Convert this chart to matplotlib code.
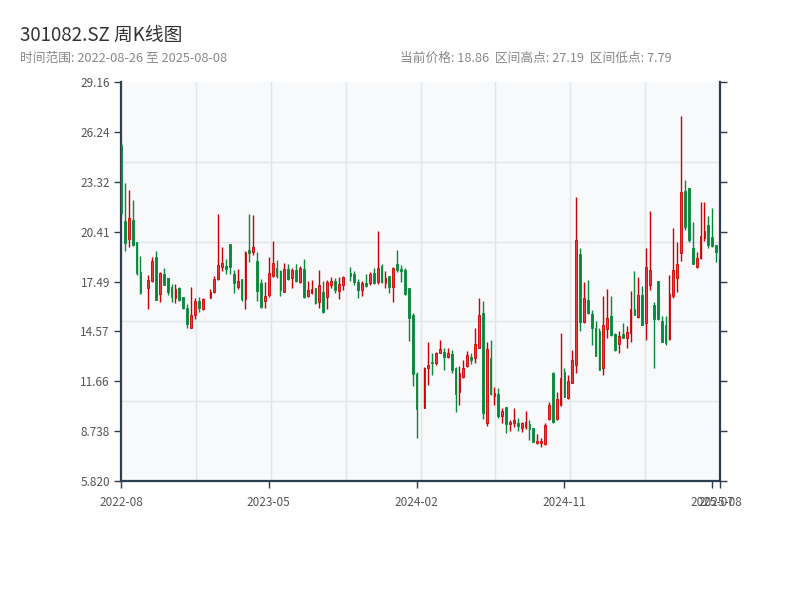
import matplotlib
matplotlib.use('Agg')
import matplotlib.pyplot as plt
import matplotlib.dates as mdates
from matplotlib.ticker import FixedLocator
import numpy as np
import pandas as pd

plt.rcParams['font.family'] = ['Noto Sans CJK SC', 'DejaVu Sans']

# weekly bars dated on Fridays; weeks with no trading (holidays) are absent
weeks = pd.date_range('2022-08-26', '2025-08-08', freq='W-FRI')
no_trade = pd.to_datetime(['2022-10-07', '2023-01-27', '2023-10-06', '2024-02-16'])
dates = weeks[~weeks.isin(no_trade)]

opens = [25.5, 21.03, 19.96, 21.09, 19.8, 18.07, 17.09, 17.54, 18.94, 16.76,
         17.91, 17.68, 17.19, 16.51, 17.13, 16.58, 15.96, 14.79, 15.51, 16.37,
         15.9, 16.51, 16.88, 17.62, 18.32, 18.42, 19.69, 17.91, 17.19, 17.64,
         16.45, 19.33, 19.24, 18.69, 17.38, 16.35, 16.7, 17.83, 18.26, 18.12,
         16.9, 18.22, 17.68, 18.16, 17.48, 18.22, 16.64, 16.82, 17.11, 16.31,
         16.9, 16.6, 17.29, 17.52, 16.93, 17.29, 17.97, 17.91, 17.48, 16.99,
         17.38, 17.38, 17.97, 17.48, 18.42, 17.42, 17.81, 17.19, 18.5, 18.22,
         18.16, 17.13, 15.53, 12.06, 10.11, 12.41, 12.8, 12.7, 13.29, 13.39,
         13.09, 13.25, 12.41, 11.0, 11.88, 12.55, 13.09, 13.0, 13.58, 15.67,
         9.19, 13.03, 10.81, 10.89, 9.64, 10.13, 9.15, 9.19, 9.19, 8.9,
         9.0, 9.13, 8.9, 8.02, 8.02, 7.98, 9.43, 12.12, 9.43, 10.27,
         12.22, 10.65, 11.57, 12.61, 19.08, 15.14, 16.41, 15.57, 14.79, 14.6,
         12.41, 14.69, 15.47, 14.4, 13.81, 14.4, 14.2, 14.5, 15.86, 15.4,
         16.7, 15.04, 17.29, 16.11, 17.52, 15.18, 14.95, 14.11, 16.64, 17.72,
         19.14, 22.78, 22.94, 19.43, 18.36, 18.85, 20.02, 20.8, 20.1, 19.63,
         19.35]
highs = [25.6, 23.23, 22.84, 22.26, 19.8, 18.98, 17.87, 18.92, 19.27, 18.07,
         18.3, 17.68, 17.35, 17.33, 17.19, 16.6, 16.17, 17.17, 16.51, 16.56,
         16.51, 17.05, 17.81, 21.44, 19.49, 18.81, 19.69, 18.16, 18.2, 17.64,
         19.27, 21.44, 21.38, 19.24, 17.64, 17.48, 18.92, 19.86, 18.75, 18.16,
         18.57, 18.5, 18.26, 18.5, 18.4, 18.81, 17.52, 17.58, 17.11, 18.16,
         17.52, 17.58, 17.77, 17.68, 17.75, 17.81, 18.36, 18.1, 17.64, 17.54,
         17.91, 18.03, 18.26, 20.44, 18.5, 18.1, 17.81, 18.36, 19.33, 18.46,
         18.3, 17.13, 15.63, 12.22, 12.51, 13.97, 13.29, 13.39, 14.07, 13.58,
         13.58, 13.48, 12.51, 12.55, 12.9, 13.42, 13.29, 14.75, 16.54, 16.35,
         13.97, 14.07, 11.34, 11.28, 10.07, 10.17, 9.39, 10.07, 9.48, 9.29,
         9.91, 9.39, 8.94, 8.57, 8.35, 9.19, 10.46, 12.22, 11.05, 14.46,
         12.41, 12.02, 13.48, 22.42, 19.43, 17.44, 17.58, 15.82, 15.18, 14.79,
         16.66, 17.05, 16.66, 14.46, 14.6, 15.04, 14.89, 16.94, 18.11, 17.74,
         17.23, 19.43, 21.61, 16.27, 17.52, 15.49, 15.47, 17.87, 20.6, 19.82,
         27.19, 23.43, 22.98, 20.99, 19.24, 22.12, 22.12, 21.32, 21.77, 19.63,
         19.8]
lows = [21.3, 19.29, 19.53, 19.57, 17.87, 16.76, 15.9, 17.48, 16.43, 16.31,
        17.29, 16.7, 16.31, 16.21, 16.37, 15.9, 14.79, 14.79, 15.28, 15.73,
        15.83, 16.51, 16.82, 17.58, 18.1, 17.91, 17.91, 16.84, 17.03, 16.35,
        15.86, 18.65, 19.04, 16.37, 15.92, 15.92, 16.6, 17.77, 17.68, 16.66,
        16.9, 17.58, 17.13, 17.48, 17.42, 16.54, 16.58, 16.78, 16.17, 15.96,
        15.67, 15.88, 17.09, 16.8, 16.47, 17.0, 17.52, 17.29, 16.54, 16.66,
        17.19, 17.29, 17.33, 17.34, 17.42, 17.13, 16.84, 16.31, 18.07, 17.48,
        16.7, 14.03, 11.4, 8.36, 10.11, 11.43, 12.02, 12.6, 13.29, 12.31,
        12.99, 12.16, 9.87, 10.26, 11.86, 12.51, 12.64, 12.74, 13.58, 9.43,
        9.06, 10.85, 10.26, 9.52, 9.19, 8.61, 8.76, 9.0, 8.76, 8.7,
        8.84, 8.22, 8.12, 7.98, 7.79, 7.92, 9.39, 9.23, 9.39, 10.21,
        10.71, 10.6, 11.53, 12.12, 14.6, 15.04, 15.57, 13.78, 13.15, 12.32,
        12.02, 14.17, 14.3, 13.44, 13.29, 14.17, 13.58, 13.93, 15.53, 15.34,
        14.95, 14.07, 16.99, 12.45, 15.25, 13.93, 13.78, 14.07, 16.54, 16.9,
        18.71, 20.5, 19.78, 18.52, 18.3, 18.81, 19.88, 19.47, 19.53, 18.61,
        18.8]
closes = [21.5, 19.76, 21.19, 19.63, 18.0, 16.84, 17.58, 18.69, 16.43, 18.01,
          17.29, 16.9, 16.57, 17.05, 16.43, 15.96, 14.99, 15.53, 16.37, 15.92,
          16.45, 16.86, 17.62, 18.46, 18.55, 18.22, 18.36, 17.38, 17.54, 16.45,
          19.24, 19.14, 19.49, 16.93, 16.02, 16.64, 18.01, 18.55, 17.81, 17.0,
          18.22, 17.64, 18.16, 17.54, 18.26, 16.6, 16.97, 17.05, 16.21, 17.29,
          15.73, 17.48, 17.52, 16.99, 17.33, 17.77, 17.81, 17.48, 16.99, 17.38,
          17.25, 17.91, 17.38, 18.26, 17.48, 17.71, 17.19, 18.26, 18.16, 18.1,
          16.76, 15.34, 12.08, 10.01, 12.41, 12.61, 12.7, 13.29, 13.52, 13.09,
          13.33, 12.31, 10.91, 12.12, 12.41, 13.19, 12.9, 13.83, 15.53, 9.82,
          13.54, 10.91, 10.95, 9.62, 9.91, 9.13, 9.27, 9.39, 9.04, 9.19,
          9.25, 8.84, 8.12, 8.16, 8.16, 9.09, 10.26, 9.29, 10.6, 11.86,
          10.75, 11.67, 12.9, 19.92, 15.14, 16.5, 15.63, 14.79, 13.15, 12.32,
          14.95, 15.38, 14.36, 13.48, 14.3, 14.2, 14.56, 15.86, 15.53, 16.7,
          14.95, 18.36, 18.16, 15.28, 15.28, 13.97, 13.87, 16.74, 18.16, 18.5,
          22.71, 20.7, 19.92, 18.52, 18.85, 20.15, 20.45, 19.63, 19.57, 19.24,
          18.86]

y_ticks = [5.82, 8.738, 11.66, 14.57, 17.49, 20.41, 23.32, 26.24, 29.16]
y_labels = ['5.820', '8.738', '11.66', '14.57', '17.49', '20.41', '23.32', '26.24', '29.16']

x = mdates.date2num(dates)
o = np.array(opens)
h = np.array(highs)
l = np.array(lows)
c = np.array(closes)
up = c >= o

red_edge, red_face, green = '#cc0000', '#ec3b3b', '#07883a'

fig = plt.figure(figsize=(8, 6), dpi=100)
ax = fig.add_axes([0.15125, 0.1983, 0.74875, 0.665])
ax.set_facecolor('#f7f9fb')

ax.vlines(x, l, h, colors=np.where(up, red_edge, green), linewidth=1.0, zorder=2)
ax.bar(x[up], (c - o)[up], bottom=o[up], width=3.2,
       color=red_face, edgecolor=red_edge, linewidth=0.6, zorder=3)
ax.bar(x[~up], (o - c)[~up], bottom=c[~up], width=3.2,
       color=green, edgecolor=green, linewidth=0.6, zorder=3)

xmin, xmax = x[0], x[-1]
ax.set_xlim(xmin, xmax)
ax.set_ylim(y_ticks[0], y_ticks[-1])

xt = [xmin + 266 * k for k in range(5)] + [xmax]
ax.set_xticks(xt)
ax.set_xticklabels([mdates.num2date(v).strftime('%Y-%m') for v in xt])
ax.set_yticks(y_ticks)
ax.set_yticklabels(y_labels)

ax.xaxis.set_minor_locator(FixedLocator(np.linspace(xmin, xmax, 9)[1:-1]))
ax.yaxis.set_minor_locator(FixedLocator(np.linspace(y_ticks[0], y_ticks[-1], 6)[1:-1]))
ax.grid(which='minor', color='#e2e6ec', linewidth=1.0)
ax.grid(which='major', visible=False)
ax.set_axisbelow(True)

for side in ['left', 'bottom', 'right']:
    ax.spines[side].set_color('#2c3e50')
    ax.spines[side].set_linewidth(1.6)
ax.spines['top'].set_visible(False)
ax.tick_params(which='major', length=5, width=1, color='#2c3e50',
               labelcolor='#555555', labelsize=8.5)
ax.tick_params(axis='y', right=True, labelright=False, pad=3)
ax.tick_params(axis='x', pad=6)
ax.tick_params(which='minor', length=0)

fig.text(0.025, 1 - 35 / 600, '301082.SZ 周K线图', fontsize=13.5, color='#333333', va='center')
fig.text(0.025, 1 - 58 / 600, '时间范围: 2022-08-26 至 2025-08-08', fontsize=9.2,
         color='#888888', va='center')
fig.text(0.5, 1 - 58 / 600, '当前价格: 18.86  区间高点: 27.19  区间低点: 7.79', fontsize=9.2,
         color='#888888', va='center')

fig.savefig('out.png', dpi=100)
